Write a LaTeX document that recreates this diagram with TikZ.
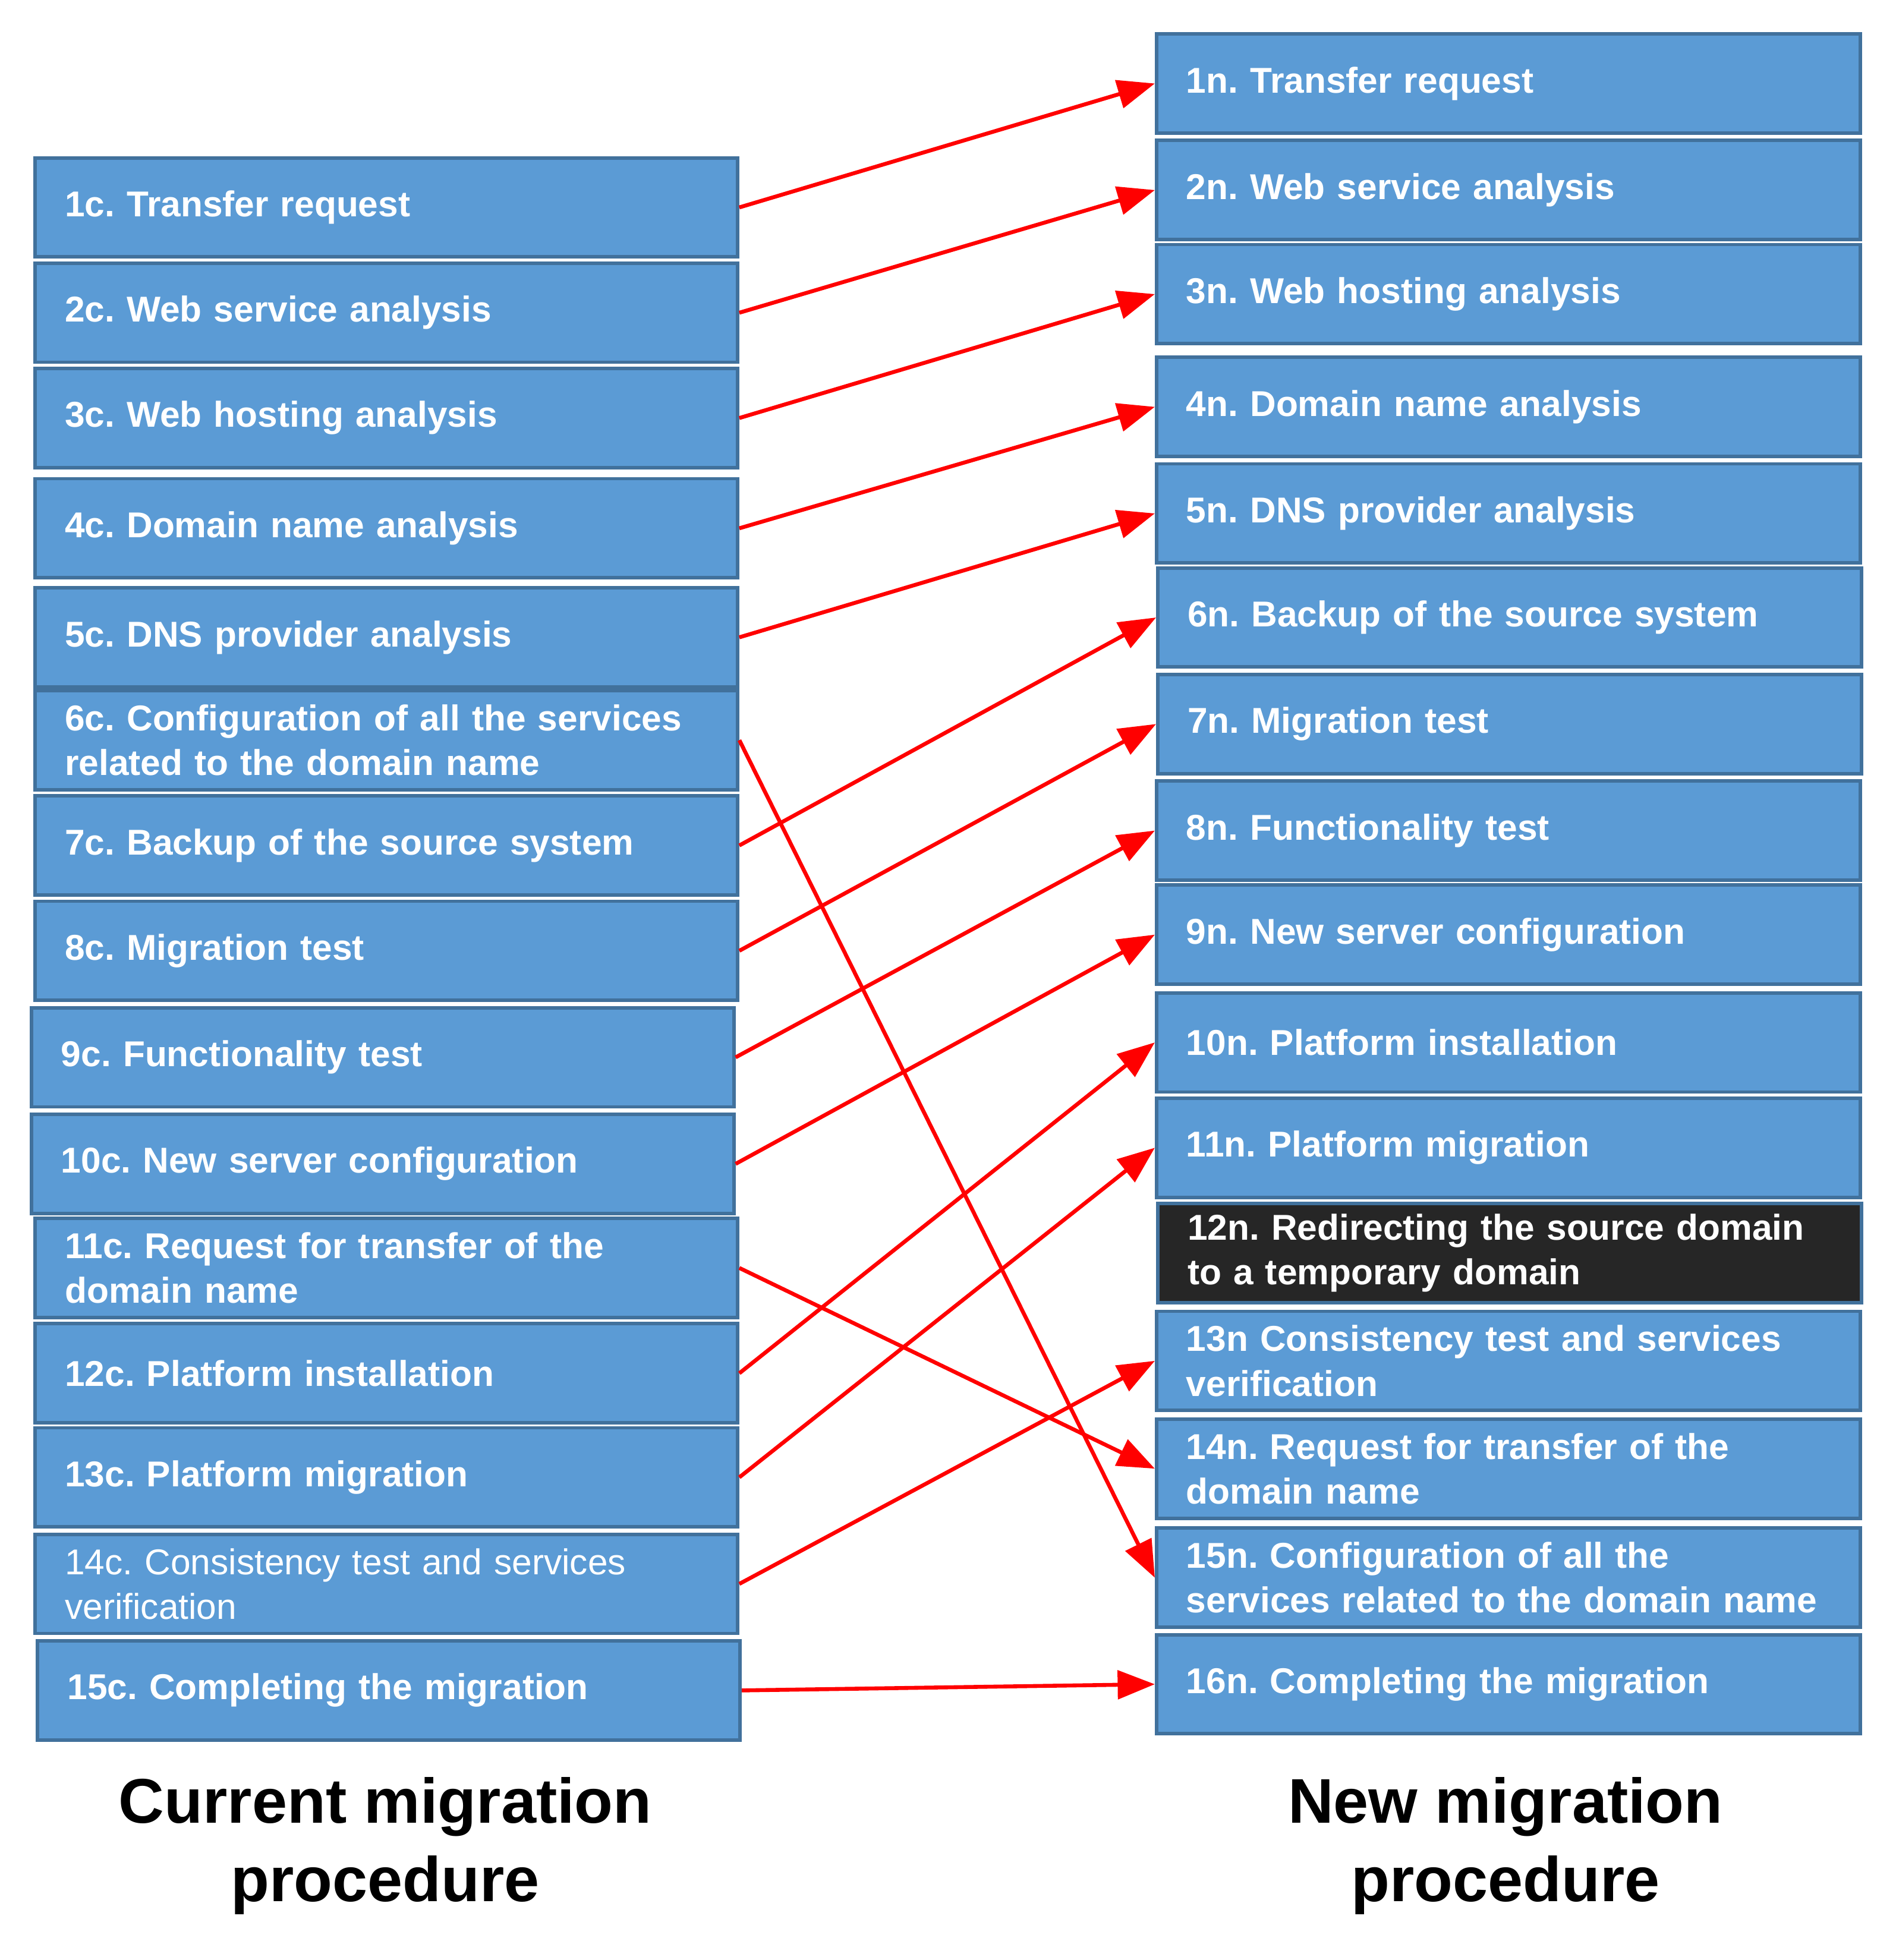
\documentclass[tikz,border=0pt]{standalone}
\usepackage{fontspec}
\setmainfont{Liberation Sans}
\usetikzlibrary{arrows.meta}
\definecolor{boxfill}{HTML}{5B9BD5}
\definecolor{boxline}{HTML}{41719C}
\frenchspacing
\begin{document}
\begin{tikzpicture}[x=0.02cm,y=-0.02cm,
  box/.style={draw=boxline,line width=1.6pt,fill=boxfill,text=white,font=\fontsize{16.5}{20.5}\selectfont\bfseries,
    anchor=north west,minimum height=1.6cm,align=left,inner xsep=0.48cm},
  lb/.style={box,minimum width=11.34cm,text width=10.38cm},
  rb/.style={box,minimum width=11.36cm,text width=10.4cm},
  arr/.style={draw=red,line width=1.8pt,-{Triangle[length=0.6cm,width=0.46cm]}},
  captxt/.style={font=\fontsize{29}{36}\selectfont\bfseries,align=center}]
\useasboundingbox (0,0) rectangle (1530,1582);
\node[lb] (c1) at (27,126) {1c. Transfer request};
\node[lb] (c2) at (27,211) {2c. Web service analysis};
\node[lb] (c3) at (27,296) {3c. Web hosting analysis};
\node[lb] (c4) at (27,385) {4c. Domain name analysis};
\node[lb] (c5) at (27,473) {5c. DNS provider analysis};
\node[lb] (c6) at (27,556) {6c. Configuration of all the services\\related to the domain name};
\node[lb] (c7) at (27,641) {7c. Backup of the source system};
\node[lb] (c8) at (27,726) {8c. Migration test};
\node[lb] (c9) at (24,812) {9c. Functionality test};
\node[lb] (c10) at (24,898) {10c. New server configuration};
\node[lb] (c11) at (27,982) {11c. Request for transfer of the\\domain name};
\node[lb] (c12) at (27,1067) {12c. Platform installation};
\node[lb] (c13) at (27,1151) {13c. Platform migration};
\node[lb,font=\fontsize{16.5}{20.5}\selectfont] (c14) at (27,1237) {14c. Consistency test and services\\verification};
\node[lb] (c15) at (29,1323) {15c. Completing the migration};
\node[rb] (n1) at (932,26) {1n. Transfer request};
\node[rb] (n2) at (932,112) {2n. Web service analysis};
\node[rb] (n3) at (932,196) {3n. Web hosting analysis};
\node[rb] (n4) at (932,287) {4n. Domain name analysis};
\node[rb] (n5) at (932,373) {5n. DNS provider analysis};
\node[rb] (n6) at (933,457) {6n. Backup of the source system};
\node[rb] (n7) at (933,543) {7n. Migration test};
\node[rb] (n8) at (932,629) {8n. Functionality test};
\node[rb] (n9) at (932,713) {9n. New server configuration};
\node[rb] (n10) at (932,800) {10n. Platform installation};
\node[rb] (n11) at (932,885) {11n. Platform migration};
\node[rb,fill=black!85,draw=boxline] (n12) at (933,970) {12n. Redirecting the source domain\\to a temporary domain};
\node[rb] (n13) at (932,1057) {13n Consistency test and services\\verification};
\node[rb] (n14) at (932,1144) {14n. Request for transfer of the\\domain name};
\node[rb] (n15) at (932,1232) {15n. Configuration of all the\\services related to the domain name};
\node[rb] (n16) at (932,1318) {16n. Completing the migration};
\foreach \a/\b in {1/1,2/2,3/3,4/4,5/5,6/15,7/6,8/7,9/8,10/9,11/14,12/10,13/11,14/13,15/16}
  \draw[arr] (c\a.east) -- (n\b.west);
\node[captxt] (t1) at (311,1490) {Current migration\\procedure};
\node[captxt] (t2) at (1215,1490) {New migration\\procedure};
\end{tikzpicture}
\end{document}
